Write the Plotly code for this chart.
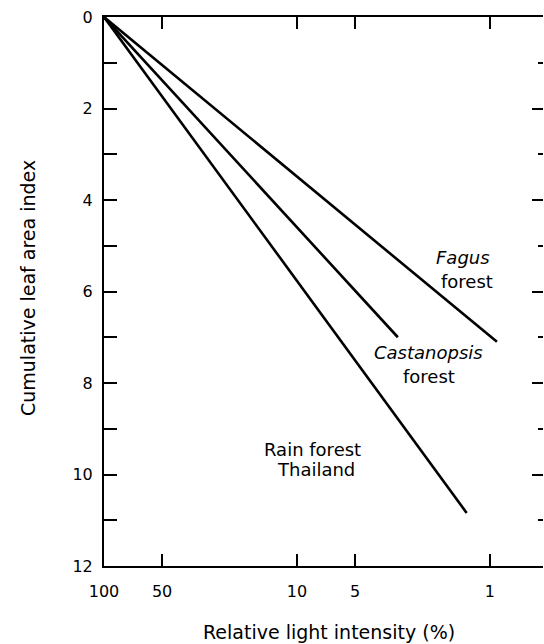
import numpy as np
import plotly.graph_objects as go

# Data
fagus_light = [100, 0.92]
fagus_lai = [0, 7.1]
castanopsis_light = [100, 3.0]
castanopsis_lai = [0, 7.0]
rain_light = [100, 1.32]
rain_lai = [0, 10.84]

x_tick_vals = [100, 50, 10, 5, 1]
x_tick_text = ["100", "50", "10", "5", "1"]
y_tick_vals = list(range(0, 13))
y_tick_text = [str(v) if v % 2 == 0 else "" for v in y_tick_vals]

FONT = "DejaVu Sans"
black = "black"

fig = go.Figure()
for xs, ys in [(fagus_light, fagus_lai), (castanopsis_light, castanopsis_lai), (rain_light, rain_lai)]:
    fig.add_trace(go.Scatter(x=xs, y=ys, mode="lines",
                             line=dict(color=black, width=2.6),
                             showlegend=False, hoverinfo="skip"))
# invisible trace to anchor right-side axis
fig.add_trace(go.Scatter(x=[100], y=[0], yaxis="y2", mode="markers",
                         marker=dict(opacity=0), showlegend=False, hoverinfo="skip"))

fig.update_layout(
    width=544, height=644,
    margin=dict(l=104, r=1, t=17, b=78),
    paper_bgcolor="white", plot_bgcolor="white",
    font=dict(family=FONT, size=16, color=black),
    xaxis=dict(type="log", range=[2, -0.275], tickvals=x_tick_vals, ticktext=x_tick_text,
               ticks="inside", ticklen=12, tickwidth=2, tickcolor=black,
               showline=True, linewidth=2, linecolor=black, mirror="ticks",
               showgrid=False, zeroline=False, ticklabelstandoff=10,
               tickfont=dict(size=16)),
    yaxis=dict(range=[12, 0], tickvals=y_tick_vals, ticktext=y_tick_text,
               ticks="inside", ticklen=13, tickwidth=2, tickcolor=black,
               showline=True, linewidth=2, linecolor=black,
               showgrid=False, zeroline=False, ticklabelstandoff=6,
               tickfont=dict(size=16)),
    yaxis2=dict(range=[12, 0], overlaying="y", side="right", showline=False,
                tickmode="linear", tick0=0, dtick=2, ticks="inside", ticklen=11,
                tickwidth=2, tickcolor=black, showticklabels=False,
                showgrid=False, zeroline=False,
                minor=dict(dtick=1, tick0=0, ticks="inside", ticklen=5, tickwidth=2,
                           tickcolor=black, showgrid=False)),
)

ann = [
    ("<i>Fagus</i>", np.log10(1.38), 5.25),
    ("forest", np.log10(1.315), 5.79),
    ("<i>Castanopsis</i>", np.log10(2.09), 7.34),
    ("forest", np.log10(2.07), 7.85),
    ("Rain forest", np.log10(8.26), 9.46),
    ("Thailand", np.log10(8.0), 9.88),
]
for text, x, y in ann:
    fig.add_annotation(x=x, y=y, xref="x", yref="y", text=text, showarrow=False,
                       font=dict(family=FONT, size=18, color=black),
                       xanchor="center", yanchor="middle")

fig.add_annotation(x=(329 - 104) / 439, y=0, xref="paper", yref="paper",
                   yshift=-66, text="Relative light intensity (%)", showarrow=False,
                   font=dict(family=FONT, size=19, color=black),
                   xanchor="center", yanchor="middle")
fig.add_annotation(x=0, y=(566 - 288) / 549, xref="paper", yref="paper",
                   xshift=-76, text="Cumulative leaf area index", showarrow=False,
                   textangle=-90, font=dict(family=FONT, size=19, color=black),
                   xanchor="center", yanchor="middle")

fig.write_html("out.html", config={"displayModeBar": False},
               post_script="document.body.style.margin='0';document.body.style.overflow='hidden';")
